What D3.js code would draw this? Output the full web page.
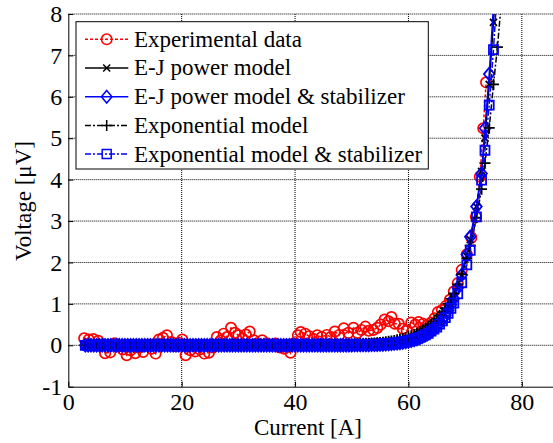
<!DOCTYPE html>
<meta charset="utf-8">
<style>
body {
  margin: 0;
  background: #fff;
}
svg {
  display: block;
  font-family: "Liberation Serif", "Times New Roman", serif;
}
.grid line {
  stroke: #000;
  stroke-width: 1px;
  stroke-dasharray: 1,1;
}
.axis path, .axis line {
  stroke: #000;
  stroke-width: 1px;
}
.axis text {
  font-family: "Liberation Serif", "Times New Roman", serif;
  font-size: 24px;
  fill: #000;
}
.label {
  font-size: 23px;
}
.legend text {
  font-size: 23px;
}
</style>
<body>
<script src="https://d3js.org/d3.v7.min.js"></script>
<script>

var width = 553,
    height = 443;

// measured data
var expCurrent = [2.8, 3.6, 4.4, 5.3, 6.0, 6.5, 7.4, 8.2, 9.0, 9.6, 10.3, 11.0, 11.8, 12.5, 13.2, 14.0, 14.7, 15.4, 16.0, 16.7,
  17.4, 18.2, 19.0, 19.6, 20.1, 20.7, 21.5, 22.4, 23.2, 24.0, 24.8, 25.5, 26.2, 26.9, 27.4, 28.0, 28.7, 29.4, 30.0, 30.7,
  31.3, 32.0, 32.7, 33.4, 34.2, 35.0, 35.8, 36.5, 37.3, 38.1, 38.7, 39.2, 39.8, 40.5, 41.0, 41.8, 42.5, 43.3, 43.9, 44.7,
  45.6, 46.3, 47.0, 47.8, 48.6, 49.4, 50.3, 51.0, 51.7, 52.4, 53.0, 53.8, 54.5, 55.1, 55.8, 56.5, 57.0, 57.6, 58.3, 59.0,
  59.7, 60.5, 61.2, 61.8, 62.6, 63.3, 64.0, 64.6, 65.2, 65.9, 66.6, 67.3, 68.0, 68.7, 69.4, 70.3, 71.1, 71.9, 72.6, 73.2, 73.7];
var expVoltage = [0.17, 0.14, 0.15, 0.11, 0.02, -0.19, -0.17, 0.05, -0.02, -0.1, -0.24, -0.12, -0.19, -0.05, -0.16, 0.0, -0.08, -0.2, 0.14, 0.18,
  0.24, 0.08, -0.02, 0.06, 0.14, -0.24, -0.12, -0.15, -0.1, -0.2, -0.18, -0.05, 0.2, 0.12, 0.28, 0.2, 0.42, 0.3, 0.24, 0.16,
  0.26, 0.33, 0.12, 0.05, 0.12, 0.05, 0.0, 0.04, -0.05, -0.08, 0.0, -0.18, 0.05, 0.24, 0.32, 0.28, 0.22, 0.15, 0.24, 0.2,
  0.25, 0.2, 0.33, 0.25, 0.41, 0.3, 0.42, 0.3, 0.37, 0.45, 0.35, 0.37, 0.42, 0.5, 0.62, 0.58, 0.68, 0.52, 0.52, 0.4,
  0.35, 0.55, 0.5, 0.56, 0.52, 0.48, 0.55, 0.65, 0.8, 0.85, 0.95, 1.1, 1.3, 1.5, 1.82, 2.2, 2.6, 3.1, 4.07, 5.24, 6.35];

// model curves
var modelCurrent = [3, 3.5, 4, 4.5, 5, 5.5, 6, 6.5, 7, 7.5, 8, 8.5, 9, 9.5, 10, 10.5, 11, 11.5, 12, 12.5,
  13, 13.5, 14, 14.5, 15, 15.5, 16, 16.5, 17, 17.5, 18, 18.5, 19, 19.5, 20, 20.5, 21, 21.5, 22, 22.5,
  23, 23.5, 24, 24.5, 25, 25.5, 26, 26.5, 27, 27.5, 28, 28.5, 29, 29.5, 30, 30.5, 31, 31.5, 32, 32.5,
  33, 33.5, 34, 34.5, 35, 35.5, 36, 36.5, 37, 37.5, 38, 38.5, 39, 39.5,
  40, 40.5, 41, 41.5, 42, 42.5, 43, 43.5, 44, 44.5, 45, 45.5, 46, 46.5, 47, 47.5, 48, 48.5, 49, 49.5,
  50, 50.5, 51, 51.5, 52, 52.5, 53, 53.5, 54, 54.5, 55, 55.5, 56, 56.5, 57, 57.5, 58, 58.5, 59, 59.5,
  60, 60.5, 61, 61.5, 62, 62.5, 63, 63.5, 64, 64.5, 65, 65.5, 66, 66.5, 67, 67.5, 68,
  68.7, 69.4, 70.3, 70.9, 72.0, 72.9, 73.5, 74.25, 75.0, 75.7, 76.4];
var ejPower = [0, 0, 0, 0, 0, 0, 0, 0, 0, 0, 0, 0, 0, 0, 0, 0, 0, 0, 0, 0,
  0, 0, 0, 0, 0, 0, 0, 0, 0, 0, 0, 0, 0, 0, 0, 0, 0, 0, 0, 0,
  0, 0, 0, 0, 0, 0, 0, 0, 0, 0, 0, 0, 0, 0, 0, 0, 0, 0, 0, 0,
  0, 0, 0, 0, 0, 0, 0, 0, 0, 0, 0, 0, 0, 0,
  0.001, 0.001, 0.001, 0.001, 0.002, 0.002, 0.002, 0.003, 0.003, 0.003,
  0.004, 0.004, 0.005, 0.005, 0.006, 0.007, 0.007, 0.008, 0.009, 0.01,
  0.01, 0.011, 0.012, 0.014, 0.015, 0.018, 0.02, 0.022, 0.025, 0.027,
  0.03, 0.035, 0.04, 0.045, 0.05, 0.06, 0.07, 0.08, 0.09, 0.105,
  0.12, 0.14, 0.16, 0.185, 0.21, 0.245, 0.28, 0.32, 0.37, 0.43,
  0.49, 0.57, 0.65, 0.75, 0.86, 0.99, 1.13,
  1.38, 1.68, 2.15, 2.55, 3.35, 4.2, 5.0, 6.3, 7.8, 9.3, 11.0];
var ejPowerStab = [0, 0, 0, 0, 0, 0, 0, 0, 0, 0, 0, 0, 0, 0, 0, 0, 0, 0, 0, 0,
  0, 0, 0, 0, 0, 0, 0, 0, 0, 0, 0, 0, 0, 0, 0, 0, 0, 0, 0, 0,
  0, 0, 0, 0, 0, 0, 0, 0, 0, 0, 0, 0, 0, 0, 0, 0, 0, 0, 0, 0,
  0, 0, 0, 0, 0, 0, 0, 0, 0, 0, 0, 0, 0, 0,
  0, 0, 0, 0, 0, 0, 0, 0, 0.001, 0.001,
  0.001, 0.001, 0.001, 0.001, 0.001, 0.001, 0.001, 0.002, 0.002, 0.002,
  0.002, 0.003, 0.003, 0.004, 0.005, 0.006, 0.008, 0.009, 0.011, 0.013,
  0.016, 0.019, 0.023, 0.028, 0.033, 0.04, 0.047, 0.056, 0.066, 0.078,
  0.092, 0.108, 0.128, 0.15, 0.177, 0.21, 0.245, 0.29, 0.335, 0.39,
  0.457, 0.53, 0.62, 0.72, 0.84, 0.98, 1.13,
  1.39, 1.70, 2.19, 2.62, 3.35, 4.15, 5.24, 6.55, 8.2, 10.0, 12.0];
var expModel = [0, 0, 0, 0, 0, 0, 0, 0, 0, 0, 0, 0, 0, 0, 0, 0, 0, 0, 0, 0,
  0, 0, 0, 0, 0, 0, 0, 0, 0, 0, 0, 0, 0, 0, 0, 0, 0, 0, 0, 0,
  0, 0, 0, 0, 0, 0, 0, 0, 0, 0, 0, 0, 0, 0, 0, 0, 0, 0, 0, 0,
  0, 0, 0, 0, 0, 0, 0, 0, 0, 0, 0, 0, 0, 0,
  0.002, 0.002, 0.003, 0.003, 0.003, 0.004, 0.004, 0.005, 0.006, 0.006,
  0.007, 0.008, 0.009, 0.01, 0.011, 0.013, 0.014, 0.016, 0.018, 0.02,
  0.022, 0.025, 0.027, 0.031, 0.034, 0.038, 0.043, 0.048, 0.054, 0.06,
  0.067, 0.076, 0.085, 0.095, 0.106, 0.118, 0.132, 0.148, 0.166, 0.186,
  0.21, 0.23, 0.26, 0.29, 0.33, 0.37, 0.41, 0.46, 0.51, 0.57,
  0.64, 0.72, 0.80, 0.89, 1.00, 1.12, 1.25,
  1.47, 1.72, 2.10, 2.41, 3.08, 3.77, 4.40, 5.25, 6.3, 7.2, 8.3];
var expModelStab = [0, 0, 0, 0, 0, 0, 0, 0, 0, 0, 0, 0, 0, 0, 0, 0, 0, 0, 0, 0,
  0, 0, 0, 0, 0, 0, 0, 0, 0, 0, 0, 0, 0, 0, 0, 0, 0, 0, 0, 0,
  0, 0, 0, 0, 0, 0, 0, 0, 0, 0, 0, 0, 0, 0, 0, 0, 0, 0, 0, 0,
  0, 0, 0, 0, 0, 0, 0, 0, 0, 0, 0, 0, 0, 0,
  0, 0, 0, 0.001, 0.001, 0.001, 0.001, 0.001, 0.001, 0.002,
  0.002, 0.002, 0.003, 0.003, 0.003, 0.004, 0.004, 0.005, 0.005, 0.006,
  0.007, 0.008, 0.009, 0.011, 0.012, 0.014, 0.016, 0.019, 0.021, 0.024,
  0.028, 0.032, 0.037, 0.042, 0.048, 0.056, 0.064, 0.073, 0.084, 0.097,
  0.111, 0.127, 0.146, 0.168, 0.193, 0.22, 0.255, 0.29, 0.34, 0.39,
  0.44, 0.51, 0.59, 0.67, 0.77, 0.89, 1.02,
  1.24, 1.51, 1.94, 2.29, 3.1, 3.99, 4.71, 5.8, 7.14, 8.7, 10.6];

var xTicks = [0, 20, 40, 60, 80];
var yTicks = [-1, 0, 1, 2, 3, 4, 5, 6, 7, 8];
var legendNames = ["Experimental data", "E-J power model", "E-J power model & stabilizer",
  "Exponential model", "Exponential model & stabilizer"];

var zip = function(xs, ys) { return xs.map(function(d, i) { return [d, ys[i]]; }); };

var series = [
  {name: legendNames[0], data: zip(expCurrent, expVoltage), color: "#f00", dash: "3,2", marker: "circle"},
  {name: legendNames[1], data: zip(modelCurrent, ejPower), color: "#000", dash: null, marker: "x"},
  {name: legendNames[2], data: zip(modelCurrent, ejPowerStab), color: "#00f", dash: null, marker: "diamond"},
  {name: legendNames[3], data: zip(modelCurrent, expModel), color: "#000", dash: "6,2,2,2", marker: "plus"},
  {name: legendNames[4], data: zip(modelCurrent, expModelStab), color: "#00f", dash: "6,2,2,2", marker: "square"}
];

var plotLeft = 68.3, plotTop = 14, plotBottom = 386.7;

var x = d3.scaleLinear().domain([0, 85.5]).range([plotLeft, width]);
var y = d3.scaleLinear().domain([-1, 8]).range([plotBottom, plotTop]);

var svg = d3.select("body").append("svg")
    .attr("width", width)
    .attr("height", height);

svg.append("rect").attr("width", width).attr("height", height).attr("fill", "#fff");

svg.append("clipPath").attr("id", "clip")
  .append("rect")
    .attr("x", plotLeft).attr("y", plotTop)
    .attr("width", width - plotLeft).attr("height", plotBottom - plotTop);

// grid
var grid = svg.append("g").attr("class", "grid");
grid.selectAll(".gx").data(xTicks.slice(1)).enter().append("line")
    .attr("x1", x).attr("x2", x).attr("y1", plotTop).attr("y2", plotBottom);
grid.selectAll(".gy").data(yTicks.slice(1)).enter().append("line")
    .attr("x1", plotLeft).attr("x2", width).attr("y1", y).attr("y2", y);

// axes, ticks point inward like matlab
svg.append("g")
    .attr("class", "axis")
    .attr("transform", "translate(0," + plotBottom + ")")
    .call(d3.axisBottom(x).tickValues(xTicks).tickSize(-5).tickSizeOuter(0).tickPadding(6).tickFormat(String));

svg.append("g")
    .attr("class", "axis")
    .attr("transform", "translate(" + plotLeft + ",0)")
    .call(d3.axisLeft(y).tickValues(yTicks).tickSize(-5).tickSizeOuter(0).tickPadding(6).tickFormat(String));

svg.selectAll(".axis").attr("font-family", null).attr("font-size", null);

function markerPath(type) {
  if (type == "circle") return "M5.2,0A5.2,5.2 0 1,1 -5.2,0A5.2,5.2 0 1,1 5.2,0Z";
  if (type == "diamond") return "M0,-6.3L5.3,0L0,6.3L-5.3,0Z";
  if (type == "square") return "M-4.5,-4.5H4.5V4.5H-4.5Z";
  if (type == "plus") return "M-5.5,0H5.5M0,-5.5V5.5";
  if (type == "x") return "M-3.5,-3.5L3.5,3.5M-3.5,3.5L3.5,-3.5";
}

var line = d3.line()
    .x(function(d) { return x(d[0]); })
    .y(function(d) { return y(d[1]); });

var plot = svg.append("g");

series.forEach(function(s) {
  var g = plot.append("g");
  g.append("path")
      .datum(s.data)
      .attr("clip-path", "url(#clip)")
      .attr("d", line)
      .attr("fill", "none")
      .attr("stroke", s.color)
      .attr("stroke-width", 1.5)
      .attr("stroke-dasharray", s.dash);
  g.selectAll(".m")
      .data(s.data.filter(function(d) { return d[1] <= 8.05; }))
    .enter().append("path")
      .attr("transform", function(d) { return "translate(" + x(d[0]) + "," + y(d[1]) + ")"; })
      .attr("d", markerPath(s.marker))
      .attr("fill", "none")
      .attr("stroke", s.color)
      .attr("stroke-width", s.marker == "circle" ? 1.7 : 1.8);
});

// legend
var legend = svg.append("g").attr("class", "legend");
legend.append("rect")
    .attr("x", 76).attr("y", 21.7)
    .attr("width", 352.3).attr("height", 147.3)
    .attr("fill", "#fff")
    .attr("stroke", "#000")
    .attr("stroke-width", 1);

var item = legend.selectAll(".item")
    .data(series)
  .enter().append("g")
    .attr("transform", function(d, i) { return "translate(0," + (39.3 + i * 28.7) + ")"; });

item.append("line")
    .attr("x1", 85).attr("x2", 128.3)
    .attr("stroke", function(d) { return d.color; })
    .attr("stroke-width", 1.5)
    .attr("stroke-dasharray", function(d) { return d.dash; });
item.append("path")
    .attr("transform", "translate(106.7,0)")
    .attr("d", function(d) { return markerPath(d.marker); })
    .attr("fill", "none")
    .attr("stroke", function(d) { return d.color; })
    .attr("stroke-width", 1.5);
item.append("text")
    .attr("x", 134)
    .attr("y", 7.4)
    .text(function(d) { return d.name; });

// axis labels
svg.append("text")
    .attr("class", "label")
    .attr("x", 308)
    .attr("y", 435)
    .attr("text-anchor", "middle")
    .text("Current [A]");

svg.append("text")
    .attr("class", "label")
    .attr("transform", "translate(31,201) rotate(-90)")
    .attr("text-anchor", "middle")
    .text("Voltage [\u03bcV]");

</script>
